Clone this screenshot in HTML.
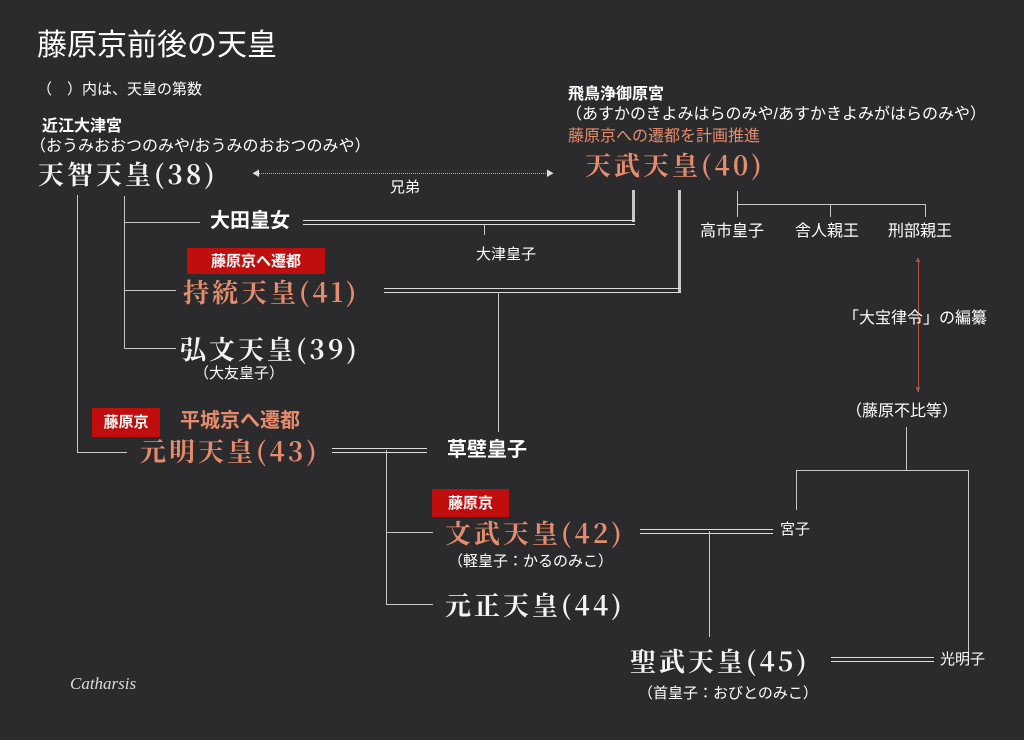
<!DOCTYPE html>
<html><head><meta charset="utf-8"><style>
body{margin:0;width:1024px;height:740px;background:#2b2a2c;overflow:hidden;position:relative;font-family:"Liberation Sans","Noto Sans CJK JP",sans-serif;color:#fff}
.t{position:absolute;white-space:nowrap;line-height:1}
.e{font-family:"Noto Serif CJK JP","Liberation Serif",serif;font-size:26px;letter-spacing:3px;color:#f4f4f4;font-weight:bold}
.o{color:#e58c6e}
.b{font-weight:bold}
.l{position:absolute;background:#c8c8c8}
.d{position:absolute;height:5px;box-sizing:border-box;border-top:1.5px solid #ddd;border-bottom:1.5px solid #ddd}
.r{position:absolute;background:#c00d0d;color:#fff;font-weight:bold;font-size:15px;line-height:1;display:flex;align-items:center;justify-content:center}
</style></head><body>
<div class="t" style="left:37px;top:31px;font-size:30px">藤原京前後の天皇</div>
<div class="t" style="left:37px;top:82px;font-size:15px">（　）内は、天皇の第数</div>

<div class="t b" style="left:42px;top:119px;font-size:16px">近江大津宮</div>
<div class="t" style="left:30px;top:139px;font-size:16px">（おうみおおつのみや/おうみのおおつのみや）</div>
<div class="t e" style="left:38px;top:161px">天智天皇(38)</div>

<div class="t b" style="left:568px;top:87px;font-size:16px">飛鳥浄御原宮</div>
<div class="t" style="left:566px;top:107px;font-size:16px">（あすかのきよみはらのみや/あすかきよみがはらのみや）</div>
<div class="t o" style="left:568px;top:129px;font-size:16px">藤原京への遷都を計画推進</div>
<div class="t e o" style="left:585px;top:152px">天武天皇(40)</div>

<div style="position:absolute;left:258px;top:173px;width:290px;border-top:1px dotted #aaa"></div>
<div class="t" style="left:252px;top:170px;font-size:8px;color:#ddd">◀</div>
<div class="t" style="left:546px;top:170px;font-size:8px;color:#ddd">▶</div>
<div class="t" style="left:390px;top:180px;font-size:15px">兄弟</div>

<div class="l" style="left:77px;top:195px;width:1px;height:257px"></div>
<div class="l" style="left:77px;top:452px;width:50px;height:1px"></div>
<div class="l" style="left:124px;top:196px;width:1px;height:152px"></div>
<div class="l" style="left:124px;top:222px;width:76px;height:1px"></div>
<div class="l" style="left:124px;top:290px;width:52px;height:1px"></div>
<div class="l" style="left:124px;top:348px;width:52px;height:1px"></div>

<div class="l" style="left:632px;top:190px;width:3px;height:32px"></div>
<div class="d" style="left:303px;top:220px;width:332px"></div>
<div class="l" style="left:678px;top:190px;width:3px;height:102px"></div>
<div class="d" style="left:384px;top:288px;width:297px"></div>
<div class="l" style="left:484px;top:224px;width:1px;height:11px"></div>
<div class="t" style="left:476px;top:247px;font-size:15px">大津皇子</div>
<div class="l" style="left:498px;top:292px;width:1px;height:140px"></div>

<div class="l" style="left:737px;top:191px;width:1px;height:26px"></div>
<div class="l" style="left:737px;top:204px;width:189px;height:1px"></div>
<div class="l" style="left:830px;top:204px;width:1px;height:13px"></div>
<div class="l" style="left:925px;top:204px;width:1px;height:13px"></div>
<div class="t" style="left:700px;top:224px;font-size:16px">高市皇子</div>
<div class="t" style="left:795px;top:224px;font-size:16px">舎人親王</div>
<div class="t" style="left:888px;top:224px;font-size:16px">刑部親王</div>

<div style="position:absolute;left:918px;top:260px;width:1px;height:132px;background:#b5553a"></div>
<div class="t" style="left:914px;top:256px;font-size:8px;color:#b5553a">▲</div>
<div class="t" style="left:914px;top:386px;font-size:8px;color:#b5553a">▼</div>
<div class="t" style="left:843px;top:311px;font-size:16px">「大宝律令」の編纂</div>
<div class="t" style="left:846px;top:404px;font-size:16px">（藤原不比等）</div>
<div class="l" style="left:906px;top:427px;width:1px;height:43px"></div>
<div class="l" style="left:796px;top:470px;width:173px;height:1px"></div>
<div class="l" style="left:796px;top:470px;width:1px;height:40px"></div>
<div class="l" style="left:968px;top:470px;width:1px;height:185px"></div>

<div class="t b" style="left:210px;top:211px;font-size:20px">大田皇女</div>
<div class="r" style="left:187px;top:248px;width:138px;height:26px">藤原京へ遷都</div>
<div class="t e o" style="left:183px;top:279px">持統天皇(41)</div>
<div class="t e" style="left:180px;top:336px">弘文天皇(39)</div>
<div class="t" style="left:194px;top:366px;font-size:15px">（大友皇子）</div>

<div class="r" style="left:92px;top:408px;width:68px;height:29px">藤原京</div>
<div class="t b o" style="left:180px;top:411px;font-size:20px">平城京へ遷都</div>
<div class="t e o" style="left:140px;top:438px">元明天皇(43)</div>
<div class="d" style="left:332px;top:448px;width:95px"></div>
<div class="t b" style="left:447px;top:440px;font-size:20px">草壁皇子</div>
<div class="l" style="left:386px;top:450px;width:1px;height:154px"></div>
<div class="l" style="left:386px;top:532px;width:47px;height:1px"></div>
<div class="l" style="left:386px;top:604px;width:47px;height:1px"></div>

<div class="r" style="left:432px;top:489px;width:77px;height:28px">藤原京</div>
<div class="t e o" style="left:445px;top:520px">文武天皇(42)</div>
<div class="t" style="left:448px;top:554px;font-size:15px">（軽皇子：かるのみこ）</div>
<div class="d" style="left:640px;top:529px;width:133px"></div>
<div class="t" style="left:780px;top:522px;font-size:15px">宮子</div>
<div class="l" style="left:709px;top:531px;width:1px;height:106px"></div>
<div class="t e" style="left:445px;top:592px">元正天皇(44)</div>

<div class="t e" style="left:630px;top:648px">聖武天皇(45)</div>
<div class="t" style="left:638px;top:686px;font-size:15px">（首皇子：おびとのみこ）</div>
<div class="d" style="left:831px;top:657px;width:103px"></div>
<div class="t" style="left:940px;top:652px;font-size:15px">光明子</div>

<div class="t" style="left:70px;top:675px;font-size:17px;font-style:italic;font-family:'Liberation Serif',serif;color:#ddd">Catharsis</div>
</body></html>
